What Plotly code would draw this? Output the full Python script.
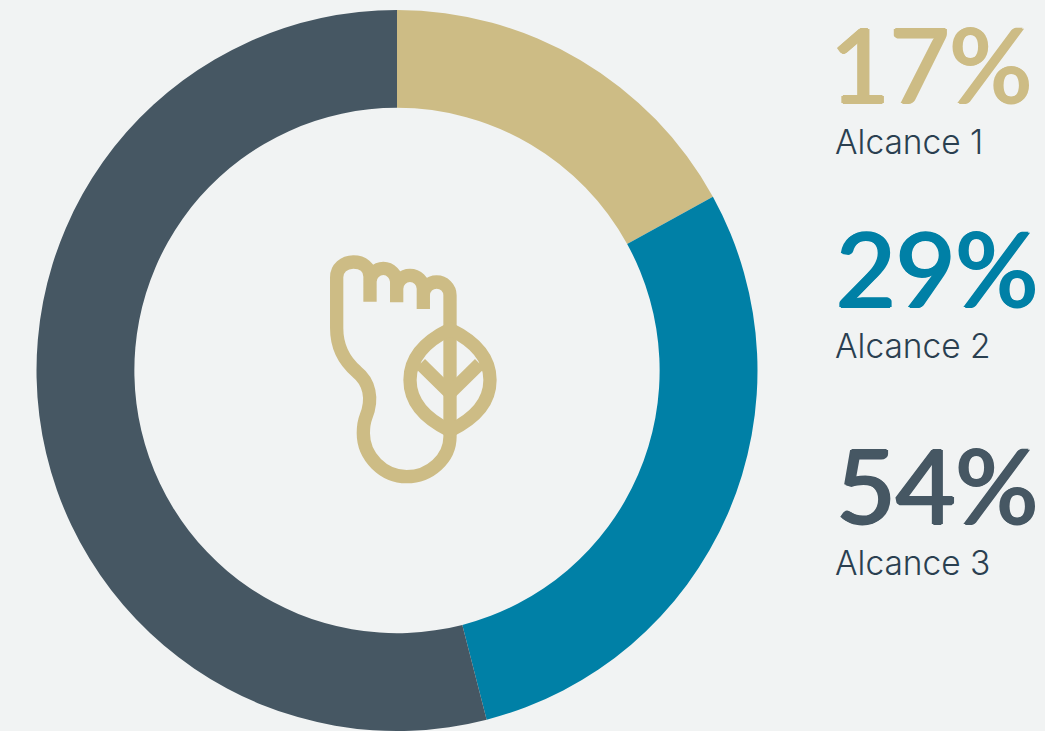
import plotly.graph_objects as go

W, H = 1045, 731
categories = ["Alcance 1", "Alcance 2", "Alcance 3"]
values = [17, 29, 54]
colors = ["#CDBC85", "#0080A6", "#465763"]
label_color = "#2A3F50"
BG = "#F1F3F3"
FONT_BIG = "Lato"
FONT_CAP = "Inter"

fig = go.Figure(go.Pie(
    labels=categories, values=values, hole=263 / 361, sort=False, direction="clockwise",
    rotation=0, marker=dict(colors=colors, line=dict(width=0)), textinfo="none",
    hoverinfo="label+percent", showlegend=False,
    domain=dict(x=[36.5 / W, 757.5 / W], y=[0, 721 / H]),
))

# big percent left edges, baselines and caption baselines (px)
big_x = [828, 834, 834]
big_y = [100, 304, 521]
cap_y = [155, 359, 576]
for c, v, col, bx, by, cy in zip(categories, values, colors, big_x, big_y, cap_y):
    s = 1.4
    shadow = f"{s}px 0 0 {col}, -{s}px 0 0 {col}, 0 {s}px 0 {col}, 0 -{s}px 0 {col}"
    fig.add_annotation(text=f"{v}%", xref="paper", yref="paper", x=bx / W, y=1 - (by + 27) / H,
                       xanchor="left", yanchor="bottom", showarrow=False,
                       font=dict(family=FONT_BIG, size=103, color=col, shadow=shadow))
    fig.add_annotation(text=c, xref="paper", yref="paper", x=833 / W, y=1 - (cy + 9) / H,
                       xanchor="left", yanchor="bottom", showarrow=False,
                       font=dict(family=FONT_CAP, size=33.5, color=label_color, weight=300))


def P(zx, zy):
    """Icon point given in 1/3 px units around the icon's corner -> paper coordinates."""
    return f"{(310 + zx / 3) / W:.5f},{1 - (240 + zy / 3) / H:.5f}"


def curve(*pts):
    return "C" + " ".join(P(*p) for p in pts)


foot = " ".join([
    "M" + P(180, 185), "L" + P(180, 110),
    curve((180, 82), (158, 66), (130, 66)), curve((102, 66), (80, 85), (80, 112)),
    "L" + P(80, 265),
    curve((80, 320), (105, 365), (140, 395)),
    curve((178, 425), (190, 475), (168, 530)),
    curve((160, 550), (160, 565), (160, 580)),
    curve((160, 650), (220, 710), (290, 710)),
    curve((360, 710), (420, 655), (420, 590)),
    "M" + P(180, 125), curve((180, 105), (198, 85), (220, 85)), curve((242, 85), (260, 105), (260, 125)),
    "L" + P(260, 187),
    "M" + P(260, 146), curve((260, 124), (278, 106), (300, 106)), curve((322, 106), (340, 124), (340, 146)),
    "L" + P(340, 207),
    "M" + P(340, 166), curve((340, 144), (358, 126), (380, 126)), curve((402, 126), (420, 144), (420, 166)),
    "L" + P(420, 590),
])
leaf = " ".join([
    "M" + P(420, 268),
    curve((350, 302), (300, 350), (300, 420)),
    curve((300, 490), (350, 538), (420, 572)),
    curve((490, 538), (540, 490), (540, 420)),
    curve((540, 350), (490, 302), (420, 268)), "Z",
    "M" + P(331, 371), "L" + P(420, 459), "L" + P(509, 371),
])
for path in (foot, leaf):
    fig.add_shape(type="path", path=path, xref="paper", yref="paper",
                  line=dict(color=colors[0], width=13.3), fillcolor="rgba(0,0,0,0)")

fig.update_layout(width=W, height=H, margin=dict(l=0, r=0, t=0, b=0), autosize=False,
                  paper_bgcolor=BG, plot_bgcolor=BG)
fig.write_html("out.html", config={"displayModeBar": False},
               post_script=f"document.body.style.margin='0';document.body.style.background='{BG}';document.body.style.overflow='hidden';")
